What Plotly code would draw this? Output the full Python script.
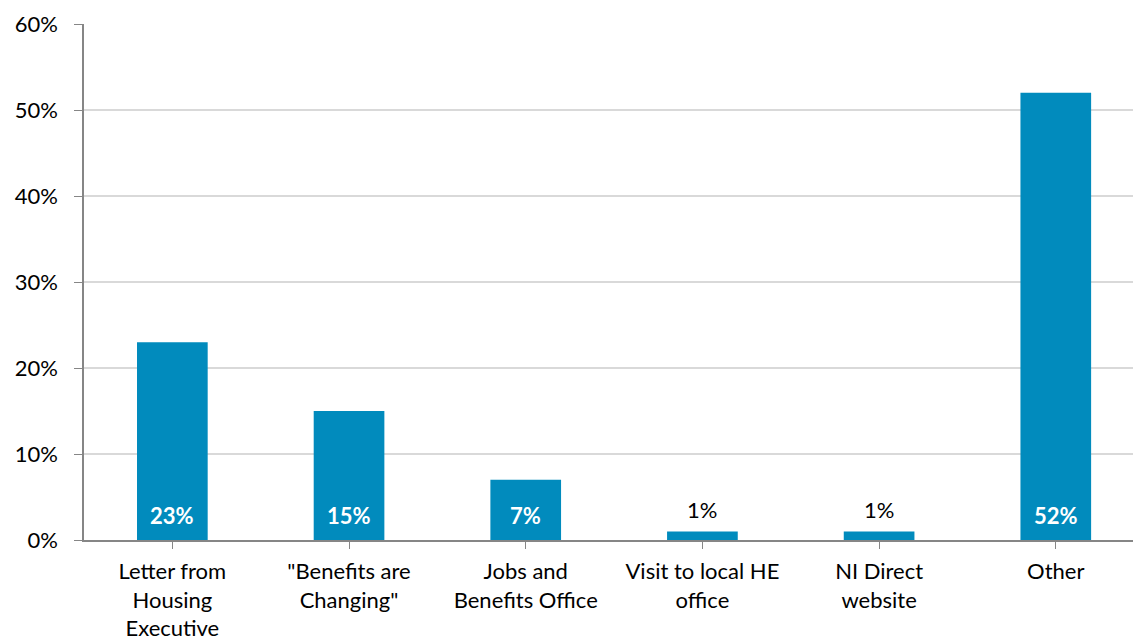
import plotly.graph_objects as go

# Source of information about benefit changes
categories = [
    "Letter from<br>Housing<br>Executive",
    "\"Benefits are<br>Changing\"",
    "Jobs and<br>Benefits Office",
    "Visit to local HE<br>office",
    "NI Direct<br>website",
    "Other",
]
shares = [23, 15, 7, 1, 1, 52]
y_ticks = [0, 10, 20, 30, 40, 50, 60]
y_tick_labels = [f"{v}%" for v in y_ticks]

BAR_COLOR = "#018BBD"
AXIS_COLOR = "#868686"
FONT = "Lato, 'Open Sans', sans-serif"
FONT_SIZE = 22

x_pos = list(range(len(categories)))

fig = go.Figure(
    go.Bar(
        x=x_pos,
        y=shares,
        width=0.4,
        marker=dict(color=BAR_COLOR, line=dict(width=0)),
        hoverinfo="skip",
    )
)

# Value labels: small bars get dark text above the bar, the rest bold white at the bar foot
for xi, v in zip(x_pos, shares):
    if v < 3:
        fig.add_annotation(
            x=xi, y=v, text=f"{v}%", showarrow=False,
            yanchor="bottom", yshift=6,
            font=dict(color="#000000", size=FONT_SIZE, family=FONT),
        )
    else:
        fig.add_annotation(
            x=xi, y=0, text=f"<b>{v}%</b>", showarrow=False,
            yanchor="bottom", yshift=9,
            font=dict(color="#FFFFFF", size=FONT_SIZE, family=FONT),
        )

fig.update_layout(
    width=1133,
    height=643,
    margin=dict(l=84, r=0, t=24, b=103),
    paper_bgcolor="white",
    plot_bgcolor="white",
    showlegend=False,
    font=dict(family=FONT, size=FONT_SIZE, color="#000000"),
    xaxis=dict(
        tickmode="array",
        tickvals=x_pos,
        ticktext=categories,
        range=[-0.5, 5.437],
        tickson="boundaries",
        ticks="outside",
        ticklen=7,
        tickcolor=AXIS_COLOR,
        showline=True,
        linecolor=AXIS_COLOR,
        linewidth=1.5,
        showgrid=False,
        zeroline=False,
        ticklabelstandoff=4,
        tickfont=dict(size=FONT_SIZE, family=FONT),
    ),
    yaxis=dict(
        range=[0, 60],
        tickmode="array",
        tickvals=y_ticks,
        ticktext=y_tick_labels,
        ticks="outside",
        ticklen=8,
        tickcolor=AXIS_COLOR,
        showline=True,
        linecolor=AXIS_COLOR,
        linewidth=1.5,
        showgrid=True,
        gridcolor="#D9D9D9",
        gridwidth=1.5,
        zeroline=False,
        ticklabelstandoff=12,
        tickfont=dict(size=FONT_SIZE, family=FONT),
    ),
)

fig.write_html("out.html")
